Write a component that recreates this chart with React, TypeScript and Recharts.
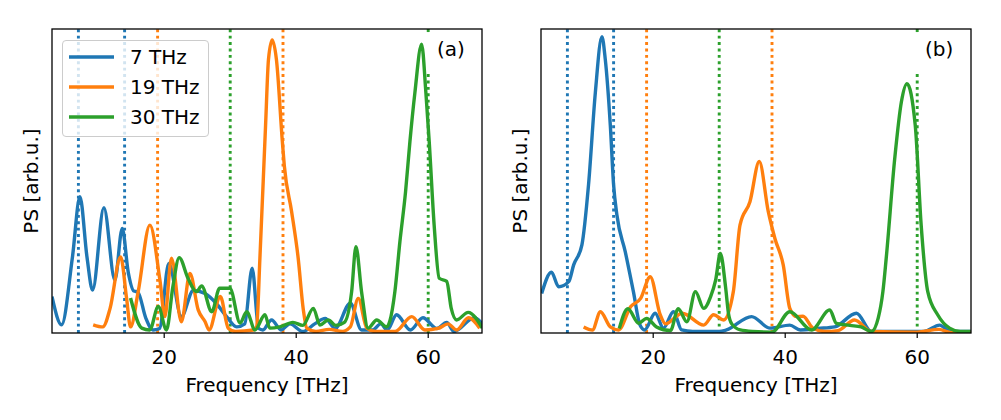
import React from "react";
import { LineChart, Line, XAxis, YAxis, ReferenceLine, Legend } from "recharts";

// [frequency in THz, power spectrum in arb. units]
const a7 = [
  [3.0, 0.12], [4.45, 0.027], [6.1, 0.25], [7.23, 0.448], [8.3, 0.25], [9.15, 0.141],
  [10.86, 0.412], [12.53, 0.174], [13.64, 0.344], [14.55, 0.2], [15.4, 0.138], [16.0, 0.135],
  [17.2, 0.05], [18.3, 0.01], [19.3, 0.015], [20.7, 0.229], [22.6, 0.054], [24.4, 0.14],
  [26.2, 0.13], [27.9, 0.097], [29.45, 0.054], [30.97, 0.02], [32.2, 0.03], [33.33, 0.213],
  [34.3, 0.015], [34.95, 0.01], [36.27, 0.043], [37.7, 0.01], [39.05, 0.03], [41.0, 0.005],
  [42.8, 0.03], [44.4, 0.048], [45.9, 0.015], [48.2, 0.098], [49.9, 0.01], [51.6, 0.01],
  [52.8, 0.03], [53.8, 0.01], [55.2, 0.06], [57.3, 0.01], [59.2, 0.05], [61.3, 0.015],
  [62.8, 0.035], [63.9, 0.005], [67.0, 0.05], [68.2, 0.03],
];
const a19 = [
  [9.24, 0.027], [10.7, 0.02], [11.8, 0.081], [13.4, 0.25], [14.3, 0.114], [14.9, 0.02],
  [16.06, 0.136], [17.83, 0.355], [19.35, 0.174], [20.1, 0.054], [21.1, 0.246], [22.6, 0.037],
  [23.9, 0.196], [25.15, 0.076], [26.2, 0.037], [26.8, 0.01], [28.5, 0.12], [29.7, 0.016],
  [30.8, 0.005], [33.5, 0.01], [34.0, 0.02], [34.5, 0.246], [35.36, 0.684], [35.8, 0.9],
  [36.36, 0.964], [37.0, 0.9], [37.9, 0.63], [38.2, 0.55], [39.3, 0.4], [40.3, 0.246],
  [41.06, 0.08], [41.6, 0.016], [43.0, 0.005], [45.0, 0.012], [47.0, 0.005], [48.2, 0.02],
  [49.4, 0.114], [50.7, 0.016], [52.0, 0.005], [55.0, 0.005], [57.5, 0.054], [59.5, 0.01],
  [61.5, 0.015], [63.0, 0.03], [64.3, 0.01], [66.1, 0.05], [67.8, 0.016],
];
const a30 = [
  [14.9, 0.115], [16.6, 0.016], [17.8, 0.01], [19.1, 0.087], [20.35, 0.01], [21.3, 0.15],
  [22.27, 0.248], [23.6, 0.18], [24.9, 0.136], [25.67, 0.155], [27.2, 0.07], [28.4, 0.147],
  [29.95, 0.147], [31.5, 0.033], [32.5, 0.07], [33.76, 0.01], [35.26, 0.06], [36.0, 0.016],
  [37.5, 0.02], [39.5, 0.035], [41.0, 0.025], [42.6, 0.081], [43.6, 0.026], [44.85, 0.043],
  [46.0, 0.025], [47.3, 0.035], [48.4, 0.136], [49.05, 0.284], [49.9, 0.136], [50.9, 0.016],
  [52.2, 0.043], [53.7, 0.02], [54.2, 0.04], [54.95, 0.136], [55.71, 0.3], [56.57, 0.465],
  [57.23, 0.63], [57.98, 0.79], [59.0, 0.95], [59.65, 0.79], [60.15, 0.63], [60.9, 0.355],
  [61.67, 0.18], [62.8, 0.17], [63.5, 0.08], [64.3, 0.043], [66.06, 0.068], [68.2, 0.016],
];

const b7 = [
  [3.1, 0.13], [4.58, 0.2], [5.68, 0.152], [7.2, 0.169], [7.95, 0.224], [9.2, 0.29],
  [10.2, 0.487], [11.23, 0.79], [12.23, 0.975], [12.74, 0.9], [13.5, 0.684], [14.0, 0.487],
  [14.5, 0.388], [15.77, 0.267], [17.0, 0.136], [18.0, 0.026], [18.7, 0.01], [20.3, 0.065],
  [21.55, 0.016], [23.07, 0.07], [24.3, 0.01], [26.0, 0.005], [30.0, 0.005], [31.1, 0.01],
  [34.9, 0.054], [37.7, 0.016], [40.7, 0.026], [42.3, 0.01], [45.0, 0.015], [47.5, 0.02],
  [50.8, 0.065], [53.05, 0.005], [58.0, 0.005], [61.0, 0.005], [63.4, 0.026], [65.0, 0.005],
  [68.1, 0.005],
];
const b19 = [
  [9.46, 0.02], [10.8, 0.01], [12.0, 0.07], [13.5, 0.02], [14.75, 0.01], [16.6, 0.087],
  [18.1, 0.114], [19.55, 0.185], [21.06, 0.06], [21.86, 0.03], [24.4, 0.065], [27.65, 0.026],
  [29.16, 0.06], [30.67, 0.043], [32.14, 0.136], [33.15, 0.355], [34.66, 0.432], [36.07, 0.564],
  [37.43, 0.4], [38.44, 0.311], [39.7, 0.224], [40.7, 0.081], [41.7, 0.054], [42.7, 0.055],
  [44.2, 0.016], [46.0, 0.005], [48.0, 0.008], [50.5, 0.043], [53.05, 0.005], [60.0, 0.003],
  [63.3, 0.012], [65.0, 0.002], [68.1, 0.002],
];
const b30 = [
  [14.86, 0.015], [16.16, 0.08], [17.8, 0.032], [19.0, 0.048], [20.5, 0.02], [22.6, 0.008],
  [23.8, 0.08], [25.1, 0.037], [26.4, 0.136], [27.65, 0.081], [28.7, 0.12], [29.46, 0.174],
  [30.17, 0.262], [30.97, 0.15], [31.4, 0.065], [31.9, 0.03], [33.2, 0.01], [35.0, 0.005],
  [38.0, 0.003], [40.7, 0.07], [44.0, 0.01], [46.76, 0.076], [47.75, 0.032], [49.8, 0.025],
  [51.5, 0.02], [53.05, 0.005], [54.1, 0.05], [54.8, 0.136], [55.3, 0.245], [56.6, 0.575],
  [57.6, 0.76], [58.45, 0.82], [59.7, 0.684], [60.6, 0.355], [61.6, 0.136], [63.1, 0.06],
  [64.9, 0.016], [66.5, 0.005], [68.1, 0.005],
];

const seriesNames = ["7 THz", "19 THz", "30 THz"];
const seriesColors = ["#1f77b4", "#ff7f0e", "#2ca02c"];
// dotted guides at the drive frequency and its second harmonic
const guideFreqs = [[7, 14], [19, 38], [30, 60]];
const xTicks = [20, 40, 60];
const X_DOMAIN = [3.0, 68.15];
const FONT = "'DejaVu Sans', sans-serif";
// top of the visible guide below the panel tag box
const TAG_BOX_BOTTOM = 0.855;
const DOTS = "2.9 3.5";

const toPoints = (s: number[][]) => s.map(([x, y]) => ({ x, y }));

function LegendBox() {
  return (
    <div
      style={{
        width: 147,
        height: 97,
        boxSizing: "border-box",
        border: "1px solid #cccccc",
        borderRadius: 4,
        background: "rgba(255,255,255,0.8)",
      }}
    >
      <svg width={145} height={95} style={{ display: "block" }}>
        {seriesNames.map((name, i) => (
          <g key={name}>
            <line x1={6} x2={51} y1={16 + i * 30} y2={16 + i * 30} stroke={seriesColors[i]} strokeWidth={3.4} />
            <text x={67} y={23.3 + i * 30} fontSize={20} fontFamily={FONT} fill="#000">
              {name}
            </text>
          </g>
        ))}
      </svg>
    </div>
  );
}

function Panel({ series, left, showLegend }: { series: number[][][]; left: number; showLegend: boolean }) {
  return (
    <div style={{ position: "absolute", left, top: 0 }}>
      <LineChart width={500} height={420} margin={{ top: 29, right: 18, bottom: 57, left: 52 }}>
        <XAxis
          type="number"
          dataKey="x"
          domain={X_DOMAIN}
          ticks={xTicks}
          interval={0}
          allowDataOverflow
          height={30}
          axisLine={false}
          tickSize={5}
          tickMargin={12}
          tickLine={{ stroke: "#000", strokeWidth: 1.2 }}
          tick={{ fontSize: 20, fill: "#000", fontFamily: FONT }}
        />
        <YAxis type="number" domain={[0, 1]} hide allowDataOverflow />
        {guideFreqs.map((freqs, i) =>
          freqs.map((f) =>
            f >= 59 ? (
              <React.Fragment key={`g${f}`}>
                <ReferenceLine
                  segment={[{ x: f, y: 0 }, { x: f, y: TAG_BOX_BOTTOM }]}
                  stroke={seriesColors[i]}
                  strokeWidth={2.9}
                  strokeDasharray={DOTS}
                />
                <ReferenceLine
                  segment={[{ x: f, y: 0.99 }, { x: f, y: 1 }]}
                  stroke={seriesColors[i]}
                  strokeWidth={2.9}
                />
              </React.Fragment>
            ) : (
              <ReferenceLine
                key={`g${f}`}
                x={f}
                stroke={seriesColors[i]}
                strokeWidth={2.9}
                strokeDasharray={DOTS}
              />
            )
          )
        )}
        {series.map((s, i) => (
          <Line
            key={seriesNames[i]}
            name={seriesNames[i]}
            data={toPoints(s)}
            dataKey="y"
            type="monotone"
            stroke={seriesColors[i]}
            strokeWidth={3.4}
            dot={false}
            activeDot={false}
            isAnimationActive={false}
          />
        ))}
        {showLegend && (
          <Legend
            layout="vertical"
            align="center"
            verticalAlign="middle"
            content={() => <LegendBox />}
            wrapperStyle={{ position: "absolute", left: 62, top: 40, width: 147, height: 97, margin: 0 }}
          />
        )}
      </LineChart>
    </div>
  );
}

export default function App() {
  return (
    <div style={{ position: "absolute", left: 0, top: 0, width: 1001, height: 420, background: "#fff" }}>
      <Panel series={[a7, a19, a30]} left={0} showLegend />
      <Panel series={[b7, b19, b30]} left={489} showLegend={false} />
      <svg
        width={1001}
        height={420}
        style={{ position: "absolute", left: 0, top: 0, pointerEvents: "none" }}
        fontFamily={FONT}
      >
        {[0, 489].map((dx) => (
          <g key={dx}>
            <rect x={52 + dx} y={29} width={430} height={304} fill="none" stroke="#000" strokeWidth={1.3} />
            <text x={267 + dx} y={391.5} fontSize={20} textAnchor="middle" fill="#000">
              Frequency [THz]
            </text>
            <text
              x={38 + dx}
              y={181}
              fontSize={20}
              textAnchor="middle"
              fill="#000"
              transform={`rotate(-90 ${38 + dx} 181)`}
            >
              PS [arb.u.]
            </text>
          </g>
        ))}
        <text x={437} y={56} fontSize={20} fill="#000">(a)</text>
        <text x={925} y={56} fontSize={20} fill="#000">(b)</text>
      </svg>
    </div>
  );
}
